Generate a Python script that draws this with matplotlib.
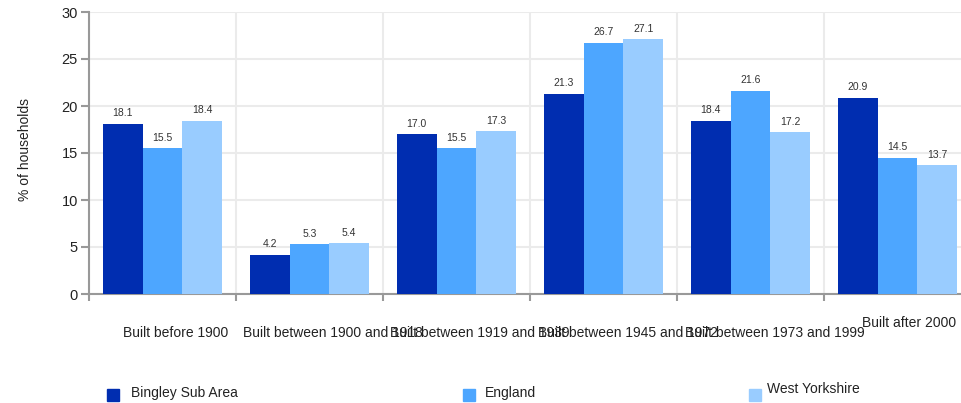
import numpy as np
import matplotlib.pyplot as plt

plt.rcParams['font.family'] = ['Liberation Sans', 'DejaVu Sans']

categories = ['Built before 1900', 'Built between 1900 and 1918', 'Built between 1919 and 1939',
              'Built between 1945 and 1972', 'Built between 1973 and 1999', 'Built after 2000']
series_names = ['Bingley Sub Area', 'England', 'West Yorkshire']
bingley = [18.1, 4.2, 17.0, 21.3, 18.4, 20.9]
england = [15.5, 5.3, 15.5, 26.7, 21.6, 14.5]
west_yorkshire = [18.4, 5.4, 17.3, 27.1, 17.2, 13.7]
yticks = [0, 5, 10, 15, 20, 25, 30]

colors = ['#002DB0', '#4DA6FF', '#99CCFF']
W, H = 962, 403

fig = plt.figure(figsize=(W / 100, H / 100), dpi=100)
# axes spans beyond the right edge of the figure, as in the reference
ax = fig.add_axes([89 / W, 1 - 294 / H, 882 / W, 282 / H])

n = len(categories)
x = np.arange(n)
bw = 0.27
for i, (vals, c) in enumerate(zip([bingley, england, west_yorkshire], colors)):
    pos = x + 0.5 + (i - 1) * bw
    ax.bar(pos, vals, width=bw, color=c, zorder=3)
    for p, v in zip(pos, vals):
        ax.text(p, v + 0.6, f'{v:.1f}', ha='center', va='bottom', fontsize=7.5, color='#333333', zorder=4)

ax.set_xlim(0, n)
ax.set_ylim(0, 30)
ax.set_yticks(yticks)
ax.set_xticks(np.arange(n))
ax.set_xticklabels([])
ax.grid(True, color='#ebebeb', linewidth=1.5, zorder=0)
ax.tick_params(axis='y', length=6, width=1.5, color='#999999', labelsize=10.5, pad=2, labelcolor='#222222')
ax.tick_params(axis='x', length=5, width=1.5, color='#999999')
for s in ['top', 'right']:
    ax.spines[s].set_visible(False)
for s in ['left', 'bottom']:
    ax.spines[s].set_color('#999999')
    ax.spines[s].set_linewidth(1.5)

fig.text(25 / W, 1 - 150 / H, '% of households', rotation=90, ha='center', va='center',
         fontsize=10, color='#222222')

# category labels (left edges as placed in the reference)
lab_x = [123, 243, 390, 538, 685, 862]
lab_y = [333, 333, 333, 333, 333, 323]
for lab, lx, ly in zip(categories, lab_x, lab_y):
    fig.text(lx / W, 1 - ly / H, lab, ha='left', va='center', fontsize=10, color='#222222')

# legend
leg_x = [113, 469, 755]
leg_tx = [131, 485, 767]
leg_ty = [393, 393, 389]
for i, name in enumerate(series_names):
    fig.patches.append(plt.Rectangle(((leg_x[i] - 6) / W, 1 - 401 / H), 12 / W, 12 / H,
                                     transform=fig.transFigure, color=colors[i], figure=fig))
    fig.text(leg_tx[i] / W, 1 - leg_ty[i] / H, name, ha='left', va='center', fontsize=10, color='#222222')

fig.savefig('out.png', dpi=100)
